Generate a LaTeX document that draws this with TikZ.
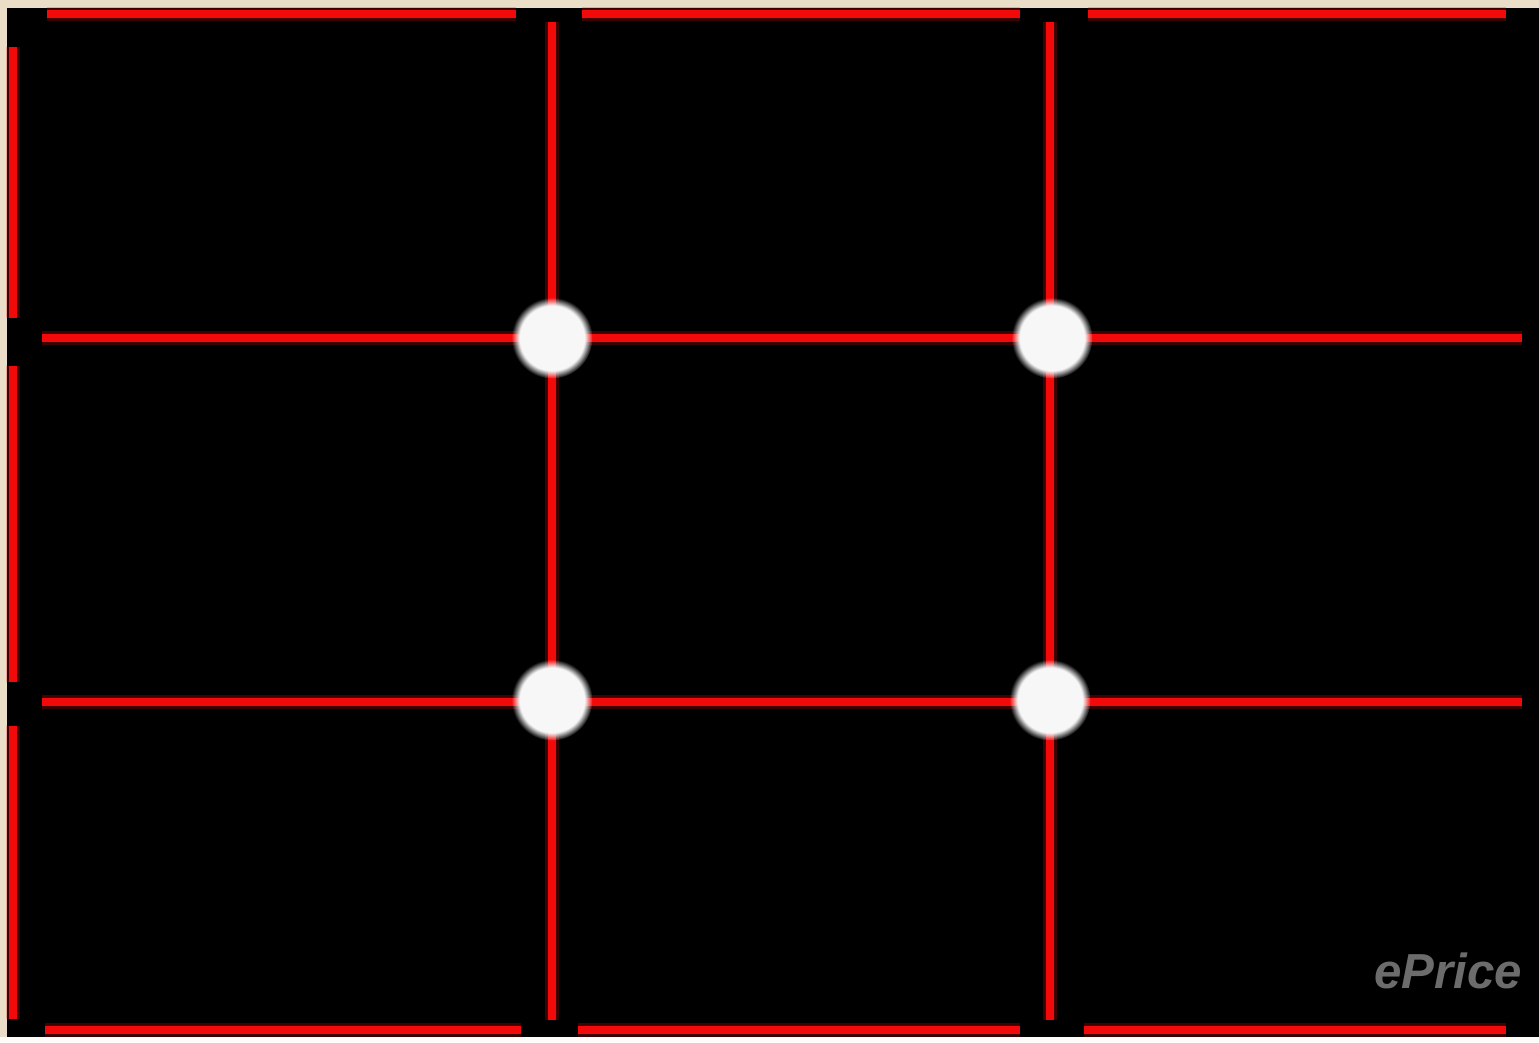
\documentclass[tikz,border=0pt]{standalone}
\usepackage{fontspec}
\setsansfont{Liberation Sans}
\usetikzlibrary{positioning, fadings}
\definecolor{paper}{RGB}{234,222,200}
\definecolor{gridred}{RGB}{242,10,10}
\definecolor{markgray}{RGB}{108,108,108}

\begin{document}
\begin{tikzpicture}[
    x=0.02cm, y=-0.02cm,
    glow/.style={draw=gridred, line width=8pt, opacity=0.25},
    gridline/.style={draw=gridred, line width=5pt},
    spot/.style={circle, fill=gray!6, minimum size=1.62cm, inner sep=0pt,
        path fading=circle with fuzzy edge 20 percent},
    watermark/.style={font=\sffamily\bfseries\itshape\fontsize{28}{28}\selectfont, text=markgray, inner sep=0pt}
]
    % paper and black frame
    \fill[paper] (0,0) rectangle (1539,1042);
    \fill[white!90!paper] (0,1037) rectangle (1539,1042);
    \fill[black] (7,8) rectangle (1539,1037);

    % grid points
    \coordinate (v1t) at (552,22);  \coordinate (v1b) at (552,1020);
    \coordinate (v2t) at (1050,22); \coordinate (v2b) at (1050,1020);
    \coordinate (h1l) at (42,338);  \coordinate (h1r) at (1522,338);
    \coordinate (h2l) at (42,702);  \coordinate (h2r) at (1522,702);

    % border pieces
    \coordinate (t0) at (47,14);   \coordinate (t1) at (516,14);
    \coordinate (t2) at (582,14);  \coordinate (t3) at (1020,14);
    \coordinate (t4) at (1088,14); \coordinate (t5) at (1506,14);
    \coordinate (b0) at (45,1030);  \coordinate (b1) at (521,1030);
    \coordinate (b2) at (578,1030); \coordinate (b3) at (1020,1030);
    \coordinate (b4) at (1084,1030); \coordinate (b5) at (1506,1030);
    \coordinate (l0) at (13,47);   \coordinate (l1) at (13,318);
    \coordinate (l2) at (13,366);  \coordinate (l3) at (13,682);
    \coordinate (l4) at (13,726);  \coordinate (l5) at (13,1019);

    \path[glow] (t0) -- (t1) (t2) -- (t3) (t4) -- (t5)
                (b0) -- (b1) (b2) -- (b3) (b4) -- (b5)
                (l0) -- (l1) (l2) -- (l3) (l4) -- (l5)
                (v1t) -- (v1b) (v2t) -- (v2b) (h1l) -- (h1r) (h2l) -- (h2r);
    \path[gridline] (t0) -- (t1) (t2) -- (t3) (t4) -- (t5)
                    (b0) -- (b1) (b2) -- (b3) (b4) -- (b5)
                    (l0) -- (l1) (l2) -- (l3) (l4) -- (l5);
    \draw[gridline] (v1t) -- (v1b);
    \draw[gridline] (v2t) -- (v2b);
    \draw[gridline] (h1l) -- (h1r);
    \draw[gridline] (h2l) -- (h2r);

    % power points
    \node[spot] (p11) at (552,338) {};
    \node[spot] (p12) at (1052,338) {};
    \node[spot] (p21) at (552,700) {};
    \node[spot] (p22) at (1050,700) {};

    \node[watermark, anchor=base west] (mark) at (1374,988) {ePrice};
\end{tikzpicture}
\end{document}
